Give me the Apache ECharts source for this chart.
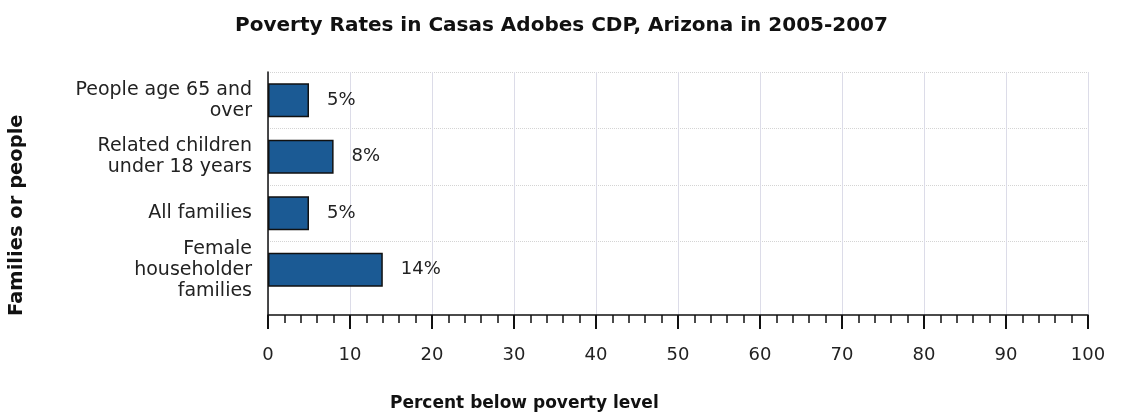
<!DOCTYPE html>
<html>
<head>
<meta charset="utf-8">
<script src="https://cdn.jsdelivr.net/npm/echarts@6/dist/echarts.min.js"></script>
<style>
  html, body { margin: 0; padding: 0; background: #fff; }
  #chart-container { width: 1123px; height: 420px; }
</style>
</head>
<body>
<div id="chart-container"></div>
<script>
var categories = ['People age 65 and\nover', 'Related children\nunder 18 years', 'All families', 'Female\nhouseholder\nfamilies'];
var rates = [5, 8, 5, 14];
var xTicks = [0, 10, 20, 30, 40, 50, 60, 70, 80, 90, 100];

var dom = document.getElementById('chart-container');
var myChart = echarts.init(dom, null, { renderer: 'canvas' });

var font = 'DejaVu Sans, Verdana, sans-serif';

var option = {
  backgroundColor: '#fff',
  animation: false,
  textStyle: { fontFamily: font },
  title: {
    text: 'Poverty Rates in Casas Adobes CDP, Arizona in 2005-2007',
    left: 'center',
    top: 11,
    textStyle: { fontSize: 20, fontWeight: 'bold', color: '#111', fontFamily: font }
  },
  // grid 0 : x axis + frame, grid 1 : category bands (last band is taller in the original)
  grid: [
    { left: 268, right: 35, top: 72, bottom: 105 },
    { left: 268, right: 35, top: 72, bottom: 122 }
  ],
  xAxis: [
    {
      gridIndex: 0,
      type: 'value',
      min: xTicks[0],
      max: xTicks[xTicks.length - 1],
      interval: 10,
      axisLine: { show: true, lineStyle: { color: '#111', width: 1.5 } },
      axisTick: { show: true, length: 14, lineStyle: { color: '#111', width: 2 } },
      minorTick: { show: true, splitNumber: 5, length: 8, lineStyle: { color: '#111', width: 1.5 } },
      axisLabel: { fontSize: 18, color: '#222', margin: 31, fontFamily: font },
      splitLine: { show: true, lineStyle: { color: '#dcdce8', width: 1 } }
    },
    {
      gridIndex: 1,
      type: 'value',
      min: xTicks[0],
      max: xTicks[xTicks.length - 1],
      show: false
    }
  ],
  yAxis: [
    {
      gridIndex: 0,
      type: 'value',
      axisLine: { show: true, lineStyle: { color: '#111', width: 1.5 } },
      axisTick: { show: false },
      axisLabel: { show: false },
      splitLine: { show: false }
    },
    {
      gridIndex: 1,
      type: 'category',
      inverse: true,
      data: categories,
      axisLine: { show: false },
      axisTick: { show: false },
      axisLabel: { fontSize: 19, color: '#222', lineHeight: 21, align: 'right', margin: 16, fontFamily: font },
      splitLine: {
        show: true,
        showMinLine: true,
        showMaxLine: false,
        lineStyle: { color: '#d4d4d4', type: 'dotted', width: 1 }
      }
    }
  ],
  graphic: [
    {
      type: 'text',
      left: 390,
      top: 395,
      style: { text: 'Percent below poverty level', font: 'bold 17px ' + font, fill: '#111' }
    },
    {
      type: 'text',
      x: 7,
      y: 316,
      rotation: Math.PI / 2,
      style: { text: 'Families or people', font: 'bold 19.5px ' + font, fill: '#111' }
    }
  ],
  series: [
    {
      type: 'bar',
      xAxisIndex: 1,
      yAxisIndex: 1,
      data: rates,
      barWidth: 34,
      itemStyle: { color: '#1b5a94', borderColor: '#111', borderWidth: 1.5 },
      label: {
        show: true,
        position: 'right',
        distance: 18,
        fontSize: 18,
        color: '#222',
        fontFamily: font,
        formatter: '{c}%'
      }
    }
  ]
};

myChart.setOption(option);
window.addEventListener('resize', myChart.resize);
</script>
</body>
</html>
